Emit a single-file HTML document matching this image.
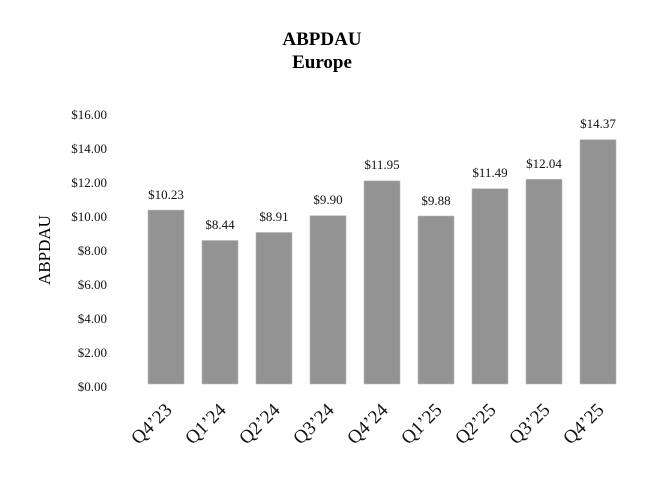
<!DOCTYPE html>
<html><head><meta charset="utf-8"><style>
html,body{margin:0;padding:0;background:#fff;}
svg{display:block;font-family:"Liberation Serif",serif;}
</style></head><body>
<svg width="652" height="480" viewBox="0 0 652 480" xmlns="http://www.w3.org/2000/svg">
<text x="322" y="45" text-anchor="middle" font-size="19" font-weight="bold">ABPDAU</text>
<text x="322" y="68" text-anchor="middle" font-size="19" font-weight="bold">Europe</text>
<text transform="translate(50,250) rotate(-90)" text-anchor="middle" font-size="17">ABPDAU</text>
<g font-size="13" text-anchor="end" fill="#111">
<text x="107" y="391">$0.00</text>
<text x="107" y="357">$2.00</text>
<text x="107" y="323">$4.00</text>
<text x="107" y="289">$6.00</text>
<text x="107" y="255">$8.00</text>
<text x="107" y="221">$10.00</text>
<text x="107" y="187">$12.00</text>
<text x="107" y="153">$14.00</text>
<text x="107" y="119">$16.00</text>
</g>
<g fill="#939393" stroke="#b8b8b8" stroke-width="0.6">
<rect x="148" y="210.1" width="36" height="173.9"/>
<rect x="202" y="240.5" width="36" height="143.5"/>
<rect x="256" y="232.5" width="36" height="151.5"/>
<rect x="310" y="215.7" width="36" height="168.3"/>
<rect x="364" y="180.9" width="36" height="203.1"/>
<rect x="418" y="216.0" width="36" height="168.0"/>
<rect x="472" y="188.7" width="36" height="195.3"/>
<rect x="526" y="179.3" width="36" height="204.7"/>
<rect x="580" y="139.7" width="36" height="244.3"/>
</g>
<g font-size="13" text-anchor="middle" fill="#111">
<text x="166" y="199">$10.23</text>
<text x="220" y="229">$8.44</text>
<text x="274" y="221">$8.91</text>
<text x="328" y="204">$9.90</text>
<text x="382" y="169">$11.95</text>
<text x="436" y="205">$9.88</text>
<text x="490" y="177">$11.49</text>
<text x="544" y="168">$12.04</text>
<text x="598" y="128">$14.37</text>
</g>
<g font-size="19" text-anchor="end" fill="#111">
<text transform="translate(173,411) rotate(-45)">Q4’23</text>
<text transform="translate(227,411) rotate(-45)">Q1’24</text>
<text transform="translate(281,411) rotate(-45)">Q2’24</text>
<text transform="translate(335,411) rotate(-45)">Q3’24</text>
<text transform="translate(389,411) rotate(-45)">Q4’24</text>
<text transform="translate(443,411) rotate(-45)">Q1’25</text>
<text transform="translate(497,411) rotate(-45)">Q2’25</text>
<text transform="translate(551,411) rotate(-45)">Q3’25</text>
<text transform="translate(605,411) rotate(-45)">Q4’25</text>
</g>
</svg>
</body></html>
